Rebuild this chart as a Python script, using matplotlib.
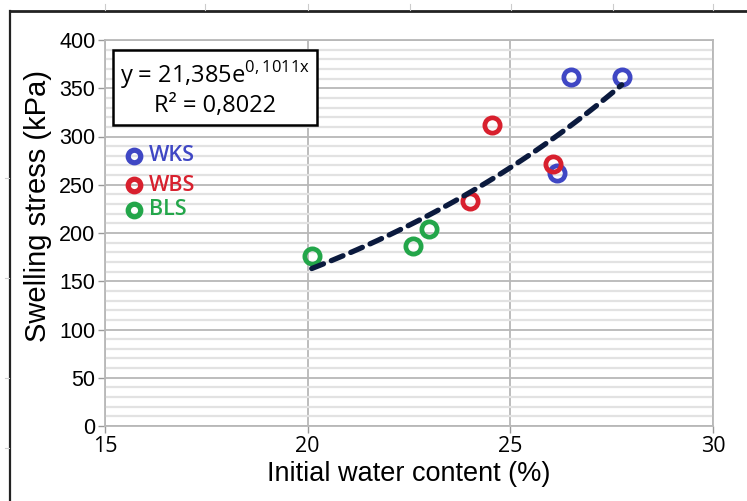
import numpy as np
import matplotlib
matplotlib.use("Agg")
import matplotlib.pyplot as plt
from matplotlib.ticker import MultipleLocator
from matplotlib.lines import Line2D

# Swelling stress vs initial water content for three soils
wks_x = [26.5, 27.75, 26.15]
wks_y = [362, 362, 262]
wbs_x = [24.55, 24.0, 26.05]
wbs_y = [312, 233, 272]
bls_x = [20.1, 22.6, 23.0]
bls_y = [176, 187, 204]

fit_a = 21.385
fit_b = 0.1011
fit_r2 = "0,8022"

series = [
    ("WKS", wks_x, wks_y, "#3f47c4"),
    ("WBS", wbs_x, wbs_y, "#d8202e"),
    ("BLS", bls_x, bls_y, "#23a64a"),
]

fig = plt.figure(figsize=(7.47, 5.01), dpi=100)
fig.patch.set_facecolor("white")

# outer frame (top and left edges)
fig.add_artist(Line2D([10 / 747, 1.0], [1 - 11 / 501, 1 - 11 / 501],
                      color="#222222", lw=2.0, transform=fig.transFigure))
fig.add_artist(Line2D([10 / 747, 10 / 747], [0.0, 1 - 11 / 501],
                      color="#222222", lw=1.6, transform=fig.transFigure))
for px in [105, 205, 308, 410, 511, 613, 713]:
    fig.add_artist(Line2D([px / 747, px / 747], [1 - 4 / 501, 1 - 10 / 501],
                          color="#cccccc", lw=0.8, transform=fig.transFigure))
for py in [178, 278, 378, 448]:
    fig.add_artist(Line2D([5 / 747, 9 / 747], [1 - py / 501, 1 - py / 501],
                          color="#cccccc", lw=0.8, transform=fig.transFigure))

ax = fig.add_axes([105 / 747, 75 / 501, 608 / 747, 386 / 501])
ax.set_xlim(15, 30)
ax.set_ylim(0, 400)
ax.xaxis.set_major_locator(MultipleLocator(5))
ax.yaxis.set_major_locator(MultipleLocator(50))
ax.yaxis.set_minor_locator(MultipleLocator(10))

ax.grid(axis="y", which="minor", color="#e2e2e2", lw=1.6, zorder=0)
ax.grid(axis="y", which="major", color="#b8b8b8", lw=1.3, zorder=0)
ax.grid(axis="x", which="major", color="#b8b8b8", lw=1.3, zorder=0)
ax.tick_params(axis="y", which="minor", length=0)
ax.tick_params(axis="both", which="major", length=5, width=1.0,
               color="#999999", labelsize=15.5, pad=2)
for s in ax.spines.values():
    s.set_color("#b8b8b8")
    s.set_linewidth(1.3)
ax.set_axisbelow(True)

for lab in ax.get_xticklabels():
    lab.set_fontfamily("Open Sans")
for lab in ax.get_yticklabels():
    lab.set_fontfamily("Liberation Sans")

for name, xs, ys, col in series:
    ax.plot(xs, ys, linestyle="none", marker="o", markersize=11,
            markerfacecolor="none", markeredgecolor=col, markeredgewidth=3.4,
            zorder=3)

xfit = np.linspace(min(bls_x), max(wks_x), 100)
ax.plot(xfit, fit_a * np.exp(fit_b * xfit), color="#0b1a3e", lw=3.8,
        linestyle=(0, (2.4, 1.6)), zorder=4, solid_capstyle="round",
        dash_capstyle="round")

ax.set_xlabel("Initial water content (%)", fontsize=19.5,
              family="Liberation Sans", labelpad=3)
ax.set_ylabel("Swelling stress (kPa)", fontsize=21,
              family="Liberation Sans")
ax.yaxis.set_label_coords(-0.087, 0.57)

# fit equation box
eq = ("y = 21,385e$^{\\mathregular{0,1011x}}$\n" + "R² = " + fit_r2)
ax.text(0.181, 0.874, eq, transform=ax.transAxes, ha="center", va="center",
        fontsize=17, family="Open Sans", linespacing=1.2, zorder=5,
        bbox=dict(boxstyle="square,pad=0.3", facecolor="white",
                  edgecolor="black", linewidth=1.8))

# hand-placed legend
legend_y = [0.700, 0.624, 0.560]
for (name, xs, ys, col), yy in zip(series, legend_y):
    ax.plot([0.0485], [yy], transform=ax.transAxes, marker="o", markersize=9,
            markerfacecolor="none", markeredgecolor=col, markeredgewidth=3.8,
            linestyle="none", zorder=5, clip_on=False)
    ax.text(0.072, yy, name, transform=ax.transAxes, ha="left", va="center",
            fontsize=15.5, color=col, family="Open Sans", fontweight="semibold",
            zorder=5)

fig.savefig("out.png", dpi=100, facecolor="white")
